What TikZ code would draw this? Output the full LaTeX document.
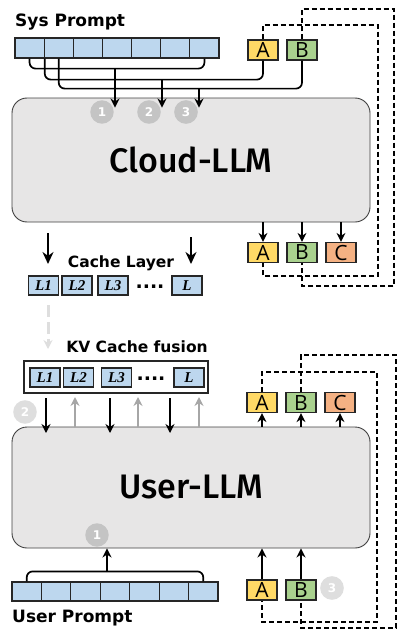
\documentclass[tikz,border=0pt]{standalone}
\usepackage{fontspec}
\setmainfont{Open Sans}
\newfontfamily\labelfont{DejaVu Sans}
\newfontfamily\layerfont{Liberation Serif}
\newfontfamily\modelfont{Fira Sans Medium}
\usetikzlibrary{arrows.meta}

\definecolor{tokenblue}{HTML}{BDD7EE}
\definecolor{modelgray}{HTML}{E7E6E6}
\definecolor{keyA}{HTML}{FFD966}
\definecolor{keyB}{HTML}{A9D18E}
\definecolor{keyC}{HTML}{F4B183}
\definecolor{badgegray}{HTML}{C4C4C4}
\definecolor{fadegray}{HTML}{DEDEDE}
\definecolor{upgray}{HTML}{A6A6A6}

\tikzset{
  cell/.style={draw=black!85, fill=tokenblue, line width=1.2pt, minimum width=29.14pt,
    minimum height=20pt, inner sep=0pt},
  llm/.style={draw=black!75, fill=modelgray, line width=0.9pt, rounded corners=15pt,
    minimum width=358pt, font=\modelfont\fontsize{34}{34}\selectfont},
  keybox/.style={draw=black!85, line width=1.2pt, minimum width=30pt, minimum height=20pt,
    inner sep=0pt, font=\fontsize{21}{21}\selectfont},
  layer/.style={draw=black!85, fill=tokenblue, line width=1.2pt, minimum width=30pt,
    minimum height=19pt, inner sep=0pt, font=\layerfont\bfseries\itshape\fontsize{15}{15}\selectfont},
  title/.style={font=\labelfont\bfseries\fontsize{17}{17}\selectfont, inner sep=0pt},
  subtitle/.style={font=\labelfont\bfseries\fontsize{15.5}{15.5}\selectfont, inner sep=0pt},
  dots/.style={font=\labelfont\bfseries\fontsize{19}{19}\selectfont, inner sep=0pt},
  badge/.style={circle, fill=#1, text=white, inner sep=4pt, minimum size=21pt,
    font=\labelfont\bfseries\fontsize{12}{12}\selectfont},
  wire/.style={line width=1.7pt},
  heavy/.style={line width=2.6pt, -{Stealth[length=12pt,width=11pt]}},
  loop/.style={line width=1.7pt, dash pattern=on 5pt off 3pt},
}

\begin{document}
\begin{tikzpicture}[x=1pt,y=-1pt,>={Stealth[length=9pt,width=9pt]}]
\useasboundingbox (0,0) rectangle (398,634);

% ---- cloud side ----
\node[title, anchor=base west] (sysp) at (15,27) {Sys Prompt};
\foreach \i in {1,...,7}
  \node[cell] (s\i) at ({15+29.14*(\i-0.5)},48) {};

\node[keybox, fill=keyA] (ka1) at (263,50) {A};
\node[keybox, fill=keyB] (kb1) at (302,50) {B};

\node[llm, minimum height=124pt] (cloud) at (191,160) {Cloud-LLM};

% prompt brackets
\draw[wire, rounded corners=6pt] (s1.south) -- ++(0,10) -| (s7.south);
\draw[wire, rounded corners=6pt] (s1.south east) -- ++(0,21) -| (ka1.south);
\draw[wire, rounded corners=6pt] (s2.south) -- ++(0,30) -| (kb1.south);

\foreach \x/\y/\n in {115/68/1,162/79/2,199/88/3}{
  \coordinate (j\n) at (\x,\y);
  \node[badge=badgegray] (b\n) at (\x-13,112) {\n};
  \draw[wire,->] (j\n) -- ([yshift=-10pt]j\n |- cloud.north);
}

\node[keybox, fill=keyA] (ka2) at (263,252.5) {A};
\node[keybox, fill=keyB] (kb2) at (302,252.5) {B};
\node[keybox, fill=keyC] (kc2) at (341,252.5) {C};
\foreach \k in {ka2,kb2,kc2}
  \draw[wire,->] (\k |- cloud.south) -- (\k.north);

% feedback loops
\coordinate (ra) at (378,25);
\coordinate (ra') at (378,276);
\coordinate (rb) at (394,9);
\coordinate (rb') at (394,286);
\draw[loop] (ka1.north) |- (ra) -- (ra') -| (ka2.south);
\draw[loop] (kb1.north) |- (rb) -- (rb') -| (kb2.south);

% ---- cache layers ----
\coordinate (h1) at (48,233);
\coordinate (h2) at (191,237);
\draw[heavy] (h1) -- (48,264);
\draw[heavy] (h2) -- (191,264);
\node[subtitle, anchor=base] (cachet) at (121,267) {Cache Layer};

\node[layer] (c1) at (43.5,285.5) {L1};
\node[layer] (c2) at (77,285.5) {L2};
\node[layer] (c3) at (113,285.5) {L3};
\node[dots] (cdots) at (150,287) {....};
\node[layer] (cl) at (187,285.5) {L};

\coordinate (g1) at (48,305);
\draw[line width=3pt, fadegray, dash pattern=on 12pt off 5pt,
  -{Stealth[length=9pt,width=9pt]}] (g1) -- (48,349);

\node[subtitle, anchor=base] (fuset) at (137,352) {KV Cache fusion};
\node[draw=black!85, line width=1.2pt, minimum width=184pt, minimum height=32pt] (fuse) at (116,377) {};
\node[layer] (f1) at (45,377.5) {L1};
\node[layer] (f2) at (78.5,377.5) {L2};
\node[layer] (f3) at (116.5,377.5) {L3};
\node[dots] (fdots) at (151,379) {....};
\node[layer] (fl) at (189,377.5) {L};

% ---- user side ----
\node[llm, minimum height=121pt] (user) at (191,487.5) {User-LLM};

\node[badge=fadegray] (b2u) at (25,412) {2};
\foreach \x in {46,110,170}
  \draw[line width=2.2pt,->] (\x,398) -- (\x,433);
\foreach \x in {75,138,199}
  \draw[line width=2.2pt,upgray,->] (\x,427) -- (\x,397);

\node[keybox, fill=keyA] (ka3) at (262,402.5) {A};
\node[keybox, fill=keyB] (kb3) at (301,402.5) {B};
\node[keybox, fill=keyC] (kc3) at (340,402.5) {C};
\foreach \k in {ka3,kb3,kc3}
  \draw[wire,->] (\k |- user.north) -- (\k.south);

\node[keybox, fill=keyA] (ka4) at (262,590) {A};
\node[keybox, fill=keyB] (kb4) at (301,590) {B};
\node[badge=fadegray, minimum size=23pt] (b3u) at (332,588) {3};
\foreach \k in {ka4,kb4}
  \draw[wire,->] (\k.north) -- (\k |- user.south);

\coordinate (ua) at (377,372);
\coordinate (ua') at (377,622);
\coordinate (ub) at (396,355);
\coordinate (ub') at (396,628);
\draw[loop] (ka3.north) |- (ua) -- (ua') -| (ka4.south);
\draw[loop] (kb3.north) |- (ub) -- (ub') -| (kb4.south);

% user prompt tokens
\foreach \i in {1,...,7}
  \node[cell, minimum width=29.43pt, minimum height=19pt] (u\i) at ({12+29.43*(\i-0.5)},591.5) {};
\draw[wire, rounded corners=6pt] (u1.north) -- ++(0,-10) -| (u7.north);
\node[badge=badgegray] (b1u) at (97,535) {1};
\coordinate (ju) at (107,572);
\draw[wire,->] (ju) -- (ju |- user.south);
\node[title, anchor=base west] (userp) at (12,622) {User Prompt};
\end{tikzpicture}
\end{document}
